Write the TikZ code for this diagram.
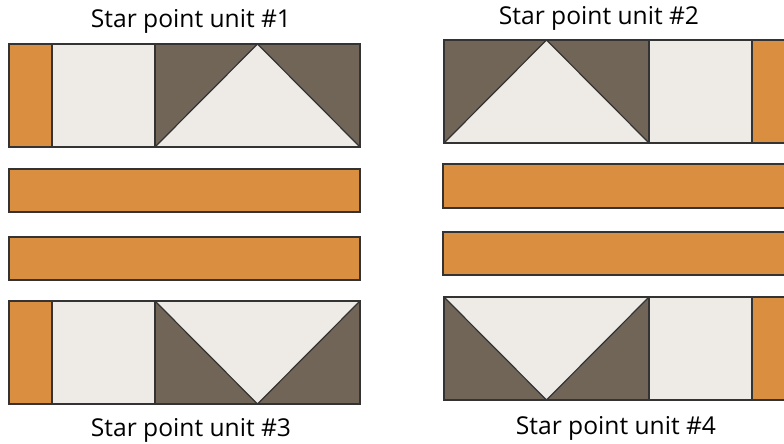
\documentclass[tikz,border=0pt]{standalone}
\usepackage{fontspec}
\setmainfont{Open Sans}
\definecolor{qorange}{HTML}{DA8F40}
\definecolor{qlight}{HTML}{EEEBE7}
\definecolor{qdark}{HTML}{716557}
\definecolor{qline}{HTML}{333333}
\tikzset{
  patch/.style={draw=qline, line width=1.2pt, line join=miter},
  lbl/.style={font=\fontsize{24.6}{28}\selectfont, text=black, inner sep=0pt, anchor=base},
}
\begin{document}
\begin{tikzpicture}[x=1pt,y=-1pt]
\useasboundingbox (0,0) rectangle (784,444);
\clip (0,0) rectangle (784,444);
% unit 1
\fill[qorange] (9,44) rectangle (52,147);
\fill[qlight] (52,44) rectangle (155,147);
\fill[qdark] (155,44) rectangle (360,147);
\fill[qlight] (155,147) -- (257.5,44) -- (360,147) -- cycle;
\draw[patch] (9,44) rectangle (360,147);
\draw[patch] (52,44) -- (52,147) (155,44) -- (155,147);
\draw[patch] (155,147) -- (257.5,44) -- (360,147);
% strips left
\draw[patch, fill=qorange] (9,169) rectangle (360,212);
\draw[patch, fill=qorange] (9,237) rectangle (360,280);
% unit 3
\fill[qorange] (9,301) rectangle (52,404);
\fill[qlight] (52,301) rectangle (155,404);
\fill[qdark] (155,301) rectangle (360,404);
\fill[qlight] (155,301) -- (257.5,404) -- (360,301) -- cycle;
\draw[patch] (9,301) rectangle (360,404);
\draw[patch] (52,301) -- (52,404) (155,301) -- (155,404);
\draw[patch] (155,301) -- (257.5,404) -- (360,301);
% unit 2
\fill[qdark] (444,40) rectangle (649,143);
\fill[qlight] (444,143) -- (546.5,40) -- (649,143) -- cycle;
\fill[qlight] (649,40) rectangle (752,143);
\fill[qorange] (752,40) rectangle (800,143);
\draw[patch] (800,40) -- (444,40) -- (444,143) -- (800,143);
\draw[patch] (649,40) -- (649,143) (752,40) -- (752,143);
\draw[patch] (444,143) -- (546.5,40) -- (649,143);
% strips right
\draw[patch, fill=qorange] (800,164) -- (443,164) -- (443,208) -- (800,208);
\draw[patch, fill=qorange] (800,232) -- (443,232) -- (443,275) -- (800,275);
% unit 4
\fill[qdark] (444,297) rectangle (649,400);
\fill[qlight] (444,297) -- (546.5,400) -- (649,297) -- cycle;
\fill[qlight] (649,297) rectangle (752,400);
\fill[qorange] (752,297) rectangle (800,400);
\draw[patch] (800,297) -- (444,297) -- (444,400) -- (800,400);
\draw[patch] (649,297) -- (649,400) (752,297) -- (752,400);
\draw[patch] (444,297) -- (546.5,400) -- (649,297);
% labels
\node[lbl] (t1) at (191,28) {Star point unit \#1};
\node[lbl] (t2) at (599,25) {Star point unit \#2};
\node[lbl] (t3) at (191,436) {Star point unit \#3};
\node[lbl] (t4) at (616,434) {Star point unit \#4};
\end{tikzpicture}
\end{document}
